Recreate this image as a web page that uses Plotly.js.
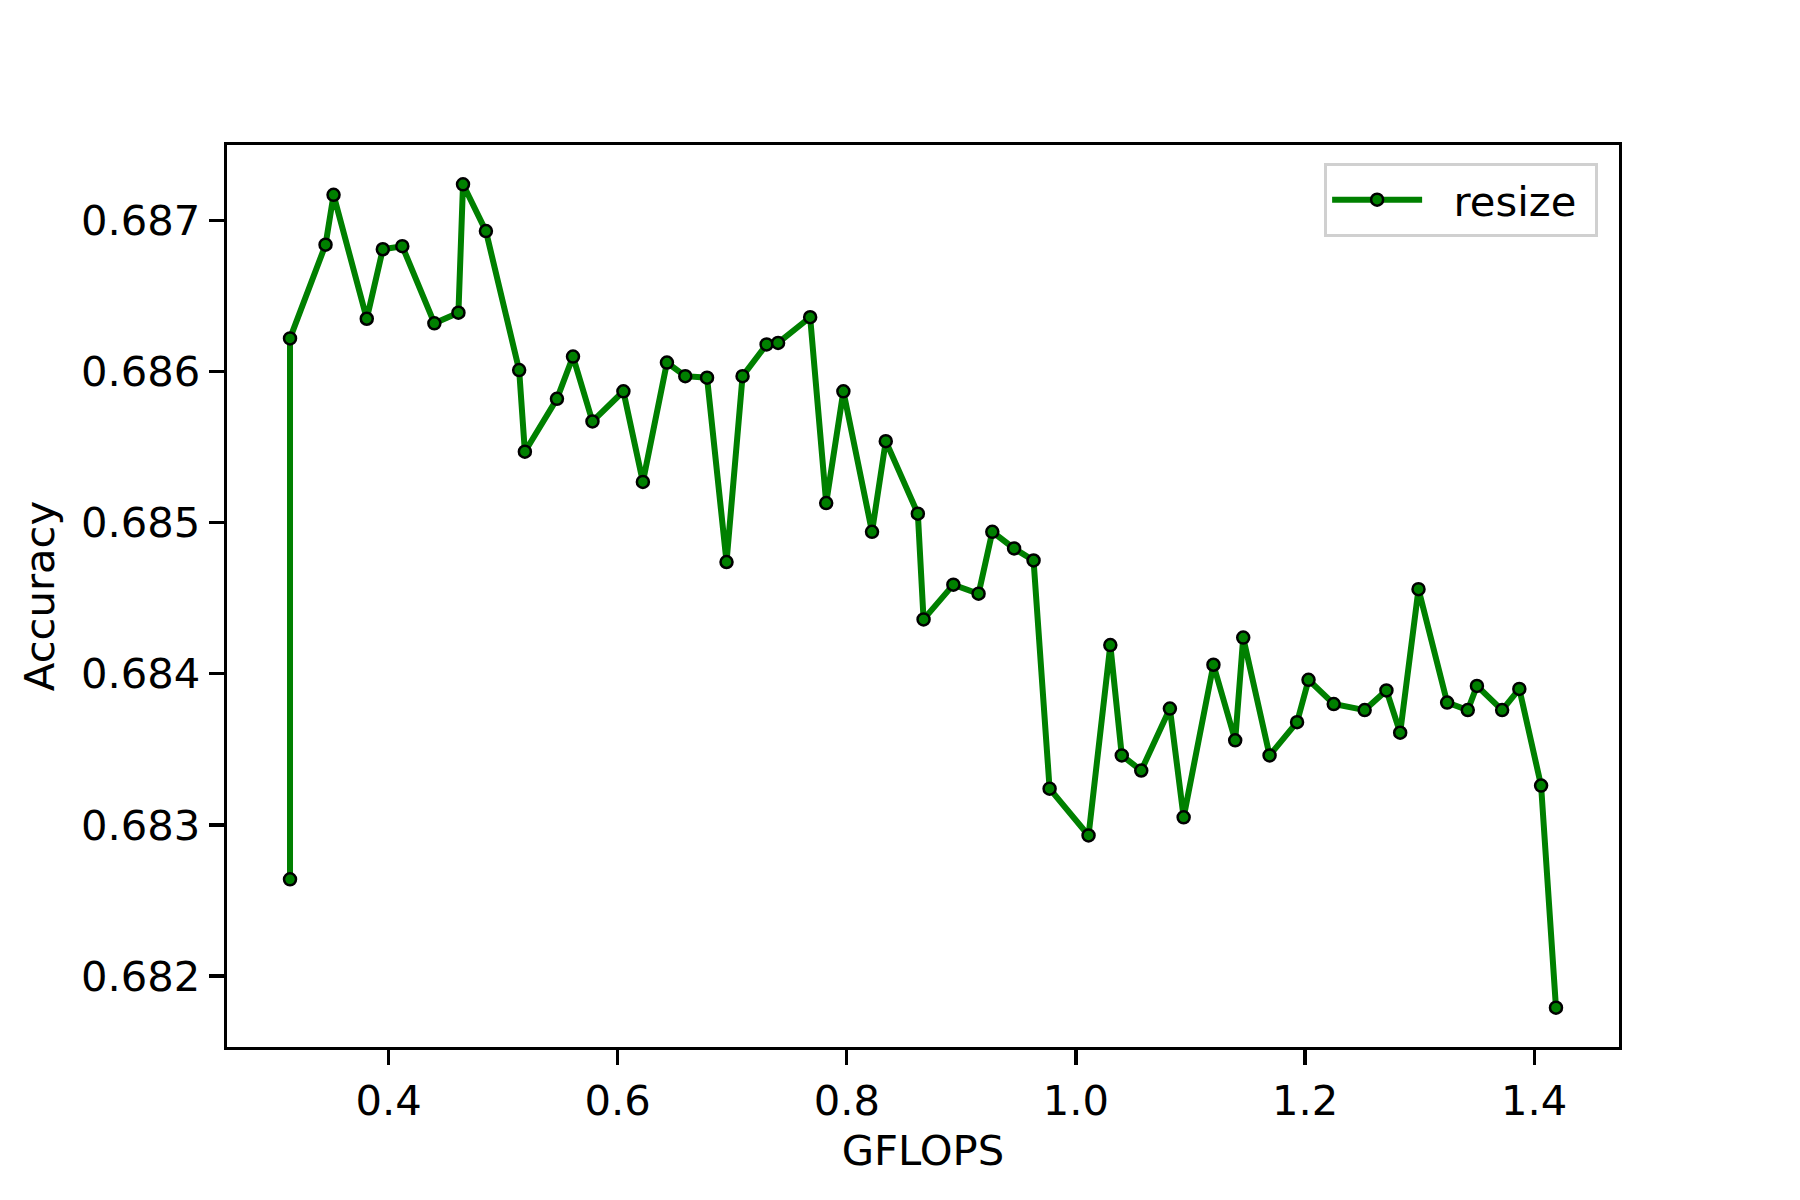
<!DOCTYPE html>
<html>
<head>
<meta charset="utf-8">
<script src="https://cdn.plot.ly/plotly-3.0.1.min.js"></script>
<style>
  body { margin: 0; background: #fff; }
  #chart { width: 1800px; height: 1200px; }
</style>
</head>
<body>
<div id="chart"></div>
<script>
// GFLOPS vs accuracy for the "resize" variant
var gflops = [0.314, 0.314, 0.345, 0.352, 0.381, 0.395, 0.412, 0.440, 0.461, 0.465,
              0.485, 0.514, 0.519, 0.547, 0.561, 0.578, 0.605, 0.622, 0.643, 0.659,
              0.678, 0.695, 0.709, 0.730, 0.740, 0.768, 0.782, 0.797, 0.822, 0.834,
              0.862, 0.867, 0.893, 0.915, 0.927, 0.946, 0.963, 0.977, 1.011, 1.030,
              1.040, 1.057, 1.082, 1.094, 1.120, 1.139, 1.146, 1.169, 1.193, 1.203,
              1.225, 1.252, 1.271, 1.283, 1.299, 1.324, 1.342, 1.350, 1.372, 1.387,
              1.406, 1.419];
var accuracy = [0.68264, 0.68622, 0.68684, 0.68717, 0.68635, 0.68681, 0.68683, 0.68632, 0.68639, 0.68724,
                0.68693, 0.68601, 0.68547, 0.68582, 0.68610, 0.68567, 0.68587, 0.68527, 0.68606, 0.68597,
                0.68596, 0.68474, 0.68597, 0.68618, 0.68619, 0.68636, 0.68513, 0.68587, 0.68494, 0.68554,
                0.68506, 0.68436, 0.68459, 0.68453, 0.68494, 0.68483, 0.68475, 0.68324, 0.68293, 0.68419,
                0.68346, 0.68336, 0.68377, 0.68305, 0.68406, 0.68356, 0.68424, 0.68346, 0.68368, 0.68396,
                0.68380, 0.68376, 0.68389, 0.68361, 0.68456, 0.68381, 0.68376, 0.68392, 0.68376, 0.68390,
                0.68326, 0.68179];
var xTicks = [0.4, 0.6, 0.8, 1.0, 1.2, 1.4];
var xTickText = ['0.4', '0.6', '0.8', '1.0', '1.2', '1.4'];
var yTicks = [0.682, 0.683, 0.684, 0.685, 0.686, 0.687];

var trace = {
  x: gflops,
  y: accuracy,
  type: 'scatter',
  mode: 'lines+markers',
  name: '\u00a0\u00a0resize\u00a0',
  line: { color: '#008000', width: 6 },
  marker: { color: '#008000', size: 12, line: { color: '#000000', width: 2.5 } },
  hoverinfo: 'none'
};

var font = { family: 'DejaVu Sans', size: 41.7, color: '#000000' };

var layout = {
  width: 1800,
  height: 1200,
  paper_bgcolor: '#ffffff',
  plot_bgcolor: '#ffffff',
  font: font,
  margin: { l: 227, r: 181, t: 145, b: 153, pad: 0 },
  showlegend: true,
  legend: {
    x: 0.985, y: 0.98, xanchor: 'right', yanchor: 'top',
    bgcolor: 'rgba(255,255,255,0.8)',
    bordercolor: '#d0d0d0', borderwidth: 3,
    font: font,
    itemwidth: 90
  },
  xaxis: {
    range: [0.259, 1.474],
    tickvals: xTicks,
    ticktext: xTickText,
    ticks: 'outside', ticklen: 15, tickwidth: 3.3, tickcolor: '#000',
    showline: true, linecolor: '#000', linewidth: 3.3, mirror: true,
    showgrid: false, zeroline: false,
    title: { text: 'GFLOPS', font: font, standoff: 12 }
  },
  yaxis: {
    range: [0.68153, 0.68750],
    tickvals: yTicks,
    tickformat: '.3f',
    ticks: 'outside', ticklen: 15, tickwidth: 3.3, tickcolor: '#000',
    showline: true, linecolor: '#000', linewidth: 3.3, mirror: true,
    showgrid: false, zeroline: false,
    title: { text: 'Accuracy', font: font, standoff: 14 }
  }
};

Plotly.newPlot('chart', [trace], layout, { displayModeBar: false, staticPlot: true });
</script>
</body>
</html>
